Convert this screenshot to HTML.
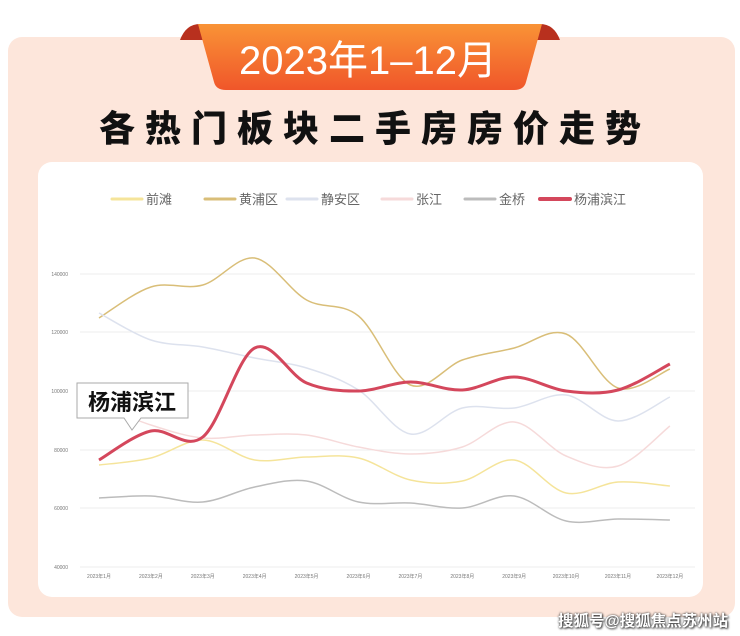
<!DOCTYPE html>
<html><head><meta charset="utf-8"><style>
body{margin:0;width:740px;height:636px;background:#fff;overflow:hidden;font-family:"Liberation Sans","Noto Sans CJK SC",sans-serif;position:relative}
.panel{position:absolute;left:8px;top:37px;width:727px;height:580px;background:#fde6db;border-radius:14px}
.card{position:absolute;left:38px;top:162px;width:665px;height:435px;background:#fff;border-radius:14px}
.title{position:absolute;top:100px;left:5px;width:740px;text-align:center;font-size:36px;font-weight:900;letter-spacing:10px;color:#111;font-family:"Noto Sans CJK SC",sans-serif}
.wm{position:absolute;left:558px;top:609px;font-size:15.5px;white-space:nowrap;color:#fff;font-weight:bold;text-shadow:0 0 2px #333,1px 1px 2px #333}
</style></head><body>
<div class="panel"></div>
<svg style="position:absolute;left:0;top:0" width="740" height="110">
<path d="M180 40 Q186 24 200 24 L205 40 Z" fill="#b8301e"/>
<path d="M560 40 Q554 24 540 24 L535 40 Z" fill="#b8301e"/>
<defs><linearGradient id="g" x1="0" y1="0" x2="0" y2="1"><stop offset="0" stop-color="#f99336"/><stop offset="1" stop-color="#f0562a"/></linearGradient></defs>
<path d="M198 24 L542 24 L526 82 Q524 90 514 90 L226 90 Q216 90 214 82 Z" fill="url(#g)"/>
<text x="368" y="74" text-anchor="middle" font-size="40" fill="#fff" font-family="Liberation Sans,Noto Sans CJK SC,sans-serif">2023年1–12月</text>
</svg>
<div class="title">各热门板块二手房房价走势</div>
<div class="card"></div>
<svg id="c" style="position:absolute;left:0;top:0" width="740" height="636"></svg>
<div class="wm">搜狐号@搜狐焦点苏州站</div>
<script>
var s=document.getElementById('c'),h='';
var ys=[[274,'140000'],[332,'120000'],[391,'100000'],[450,'80000'],[508,'60000'],[567,'40000']];
ys.forEach(function(a){h+='<line x1="80" x2="695" y1="'+a[0]+'" y2="'+a[0]+'" stroke="#eee"/><text x="68" y="'+(a[0]+2)+'" font-size="5" fill="#777" text-anchor="end">'+a[1]+'</text>';});
var X=[];for(var i=0;i<12;i++){X.push(99+i*51.9);h+='<text x="'+X[i]+'" y="578" font-size="5" fill="#777" text-anchor="middle">2023年'+(i+1)+'月</text>';}
function p(Y){var d='M'+X[0]+' '+Y[0];for(var i=0;i<11;i++){var x0=X[Math.max(i-1,0)],y0=Y[Math.max(i-1,0)],x3=X[Math.min(i+2,11)],y3=Y[Math.min(i+2,11)];
d+=' C'+(X[i]+(X[i+1]-x0)/6)+' '+(Y[i]+(Y[i+1]-y0)/6)+' '+(X[i+1]-(x3-X[i])/6)+' '+(Y[i+1]-(y3-Y[i])/6)+' '+X[i+1]+' '+Y[i+1];}return d;}
var S=[
['前滩','#f5e49a',1.5,[465,458,440,460,457,458,480,481,460,493,482,486]],
['黄浦区','#d9be78',1.5,[318,287,285,258,300,316,385,360,348,334,388,369]],
['静安区','#dde2ee',1.5,[313,340,347,358,368,390,434,408,408,395,421,397]],
['张江','#f6dada',1.5,[405,425,438,435,435,447,454,447,422,456,466,426]],
['金桥','#bcbcbc',1.5,[498,496,502,487,481,502,503,508,496,521,519,520]],
['杨浦滨江','#d4475c',3,[460,431,437,348,383,391,382,390,377,391,390,364]]];
var lx=[112,205,287,382,465,540];
S.forEach(function(a,k){h+='<path d="'+p(a[3])+'" fill="none" stroke="'+a[1]+'" stroke-width="'+a[2]+'"/>';
h+='<line x1="'+lx[k]+'" x2="'+(lx[k]+30)+'" y1="199" y2="199" stroke="'+a[1]+'" stroke-width="'+(k==5?4:3)+'" stroke-linecap="round"/><text x="'+(lx[k]+34)+'" y="204" font-size="13" fill="#666">'+a[0]+'</text>';});
h+='<path d="M77 383 H188 V418 H141 L132 430 L124 418 H77 Z" fill="#fff" stroke="#aaa"/><text x="132" y="410" text-anchor="middle" font-size="22" font-weight="bold" fill="#111">杨浦滨江</text>';
s.innerHTML=h;
</script>
</body></html>
